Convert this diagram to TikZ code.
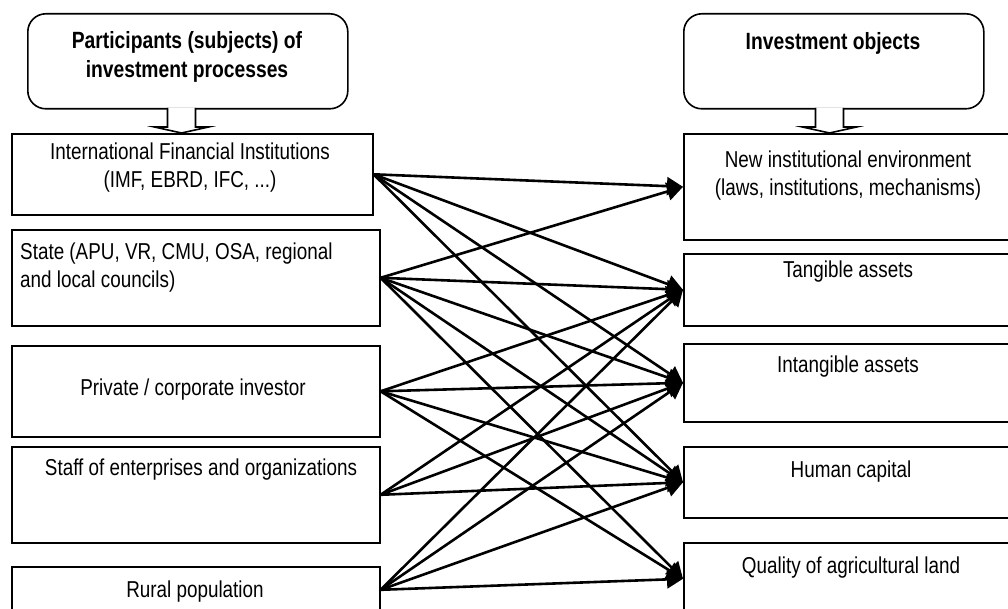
\documentclass[tikz,border=0pt]{standalone}
\usepackage{fontspec}
\setmainfont{Liberation Sans}[FakeStretch=0.82]
\usetikzlibrary{arrows.meta}

\newcommand\diagfont{\fontsize{23}{28}\selectfont}

\begin{document}
\begin{tikzpicture}[x=1pt, y=-1pt,
    box/.style = {draw, line width=1.6pt, anchor=north west, inner sep=0pt},
    head/.style = {box, rounded corners=18pt},
    txt/.style = {font=\diagfont, align=center, inner sep=0pt},
    headtxt/.style = {txt, font=\fontsize{23.5}{29}\selectfont\bfseries},
    link/.style = {-{Triangle[length=16pt,width=18pt]}, line width=2.6pt},
    hollow/.style = {draw, fill=white, line width=1.6pt}]
    \useasboundingbox (0,0) rectangle (1008,609);
    \clip (0,0) rectangle (1008,609);

    % headers
    \node (hl) [head, minimum width=320pt, minimum height=95pt] at (27,13) {};
    \node (hr) [head, minimum width=300pt, minimum height=95pt] at (683,13) {};
    \node (hlt) [headtxt] at (187,57) {Participants (subjects) of\\investment processes};
    \node (hrt) [headtxt] at (833,43) {Investment objects};

    % subjects
    \node (b1) [box, minimum width=361pt, minimum height=81pt] at (11,133) {};
    \node (b2) [box, minimum width=368pt, minimum height=96pt] at (11,229) {};
    \node (b3) [box, minimum width=368pt, minimum height=91pt] at (11,345) {};
    \node (b4) [box, minimum width=368pt, minimum height=96pt] at (11,446) {};
    \node (b5) [box, minimum width=368pt, minimum height=46pt] at (11,566) {};
    \node (b1t) [txt] at (190,168) {International Financial Institutions\\(IMF, EBRD, IFC, ...)};
    \node (b2t) [txt, align=left, anchor=west] at (20,268) {State (APU, VR, CMU, OSA, regional\\and local councils)};
    \node (b3t) [txt] at (193,390) {Private / corporate investor};
    \node (b4t) [txt] at (201,470) {Staff of enterprises and organizations};
    \node (b5t) [txt] at (195,592) {Rural population};

    % objects
    \node (r1) [box, minimum width=340pt, minimum height=106pt] at (683,133) {};
    \node (r2) [box, minimum width=340pt, minimum height=72pt] at (683,253) {};
    \node (r3) [box, minimum width=340pt, minimum height=78pt] at (683,343) {};
    \node (r4) [box, minimum width=340pt, minimum height=71pt] at (683,446) {};
    \node (r5) [box, minimum width=340pt, minimum height=72pt] at (683,542) {};
    \node (r1t) [txt] at (848,176) {New institutional environment\\(laws, institutions, mechanisms)};
    \node (r2t) [txt] at (848,272) {Tangible assets};
    \node (r3t) [txt] at (848,367) {Intangible assets};
    \node (r4t) [txt] at (851,472) {Human capital};
    \node (r5t) [txt] at (851,568) {Quality of agricultural land};

    % block arrows under the headers
    \foreach \ax in {181.5, 829.5}
        \draw [hollow] (\ax-14,108) -- (\ax-14,127) -- (\ax-27,127) -- (\ax,133)
            -- (\ax+27,127) -- (\ax+14,127) -- (\ax+14,108);

    \path [link]
        (b1.east) edge (r1.west) edge (r2.west) edge (r3.west) edge (r4.west)
        (b2.east) edge (r1.west) edge (r2.west) edge (r3.west) edge (r4.west) edge (r5.west)
        (b3.east) edge (r2.west) edge (r3.west) edge (r4.west) edge (r5.west)
        (b4.east) edge (r2.west) edge (r3.west) edge (r4.west)
        (b5.east) edge (r2.west) edge (r3.west) edge (r4.west) edge (r5.west);
\end{tikzpicture}
\end{document}
